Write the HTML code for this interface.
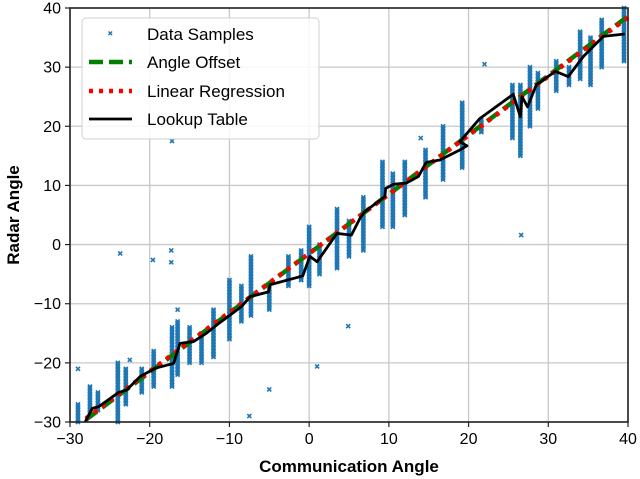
<!DOCTYPE html>
<html><head><meta charset="utf-8"><style>
body{margin:0;background:#fff;}
svg{display:block;font-family:"Liberation Sans",sans-serif;}
</style></head><body>
<svg id="chart" width="640" height="479"></svg>
<script>
const xTicks=[-30,-20,-10,0,10,20,30,40];
const yTicks=[-30,-20,-10,0,10,20,30,40];
// sample clusters: x, low y, high y
const clusterX=[-29,-27.5,-26.5,-24,-23,-21,-19.5,-17.2,-16.5,-15,-13.5,-12,-10,-8.5,-7.3,-5,-2.6,-1,0,1.3,3.5,5,6.8,9.2,10.5,12,14.6,16.8,19.2,21.6,25.5,26.5,27.7,28.7,31,32.6,34,35.3,36.7,39.5];
const clusterLo=[-30,-29,-28,-30,-27,-25,-24,-24,-22,-20,-20,-19,-16,-13,-12,-11,-7,-6,-7,-5,-4,-2,-1,3,3,5,8,11,13,19,18,15,20,23,26,27,28,27,30,31];
const clusterHi=[-27,-24,-25,-20,-21,-21,-18,-14,-13,-14,-15,-11,-6,-7,-2,-7,-2,-1,3,0,6,4,8,14,12,14,16,20,24,21,27,27,30,29,31,30,36,35,38,40];
const outX=[-17.2,-23.7,-19.6,-17.3,-17.3,-5,-7.5,1,4.9,26.6,-29,-22.5,-16.5,-1,14,22];
const outY=[17.5,-1.5,-2.6,-1,-3,-24.5,-29,-20.6,-13.8,1.6,-21,-19.5,-11,-6,18,30.5];
const lutX=[-28.1,-27.2,-26.4,-23.9,-22.9,-21.2,-19.3,-17,-16.2,-14.5,-12.9,-11.6,-9.9,-8.5,-7.4,-5.1,-4.9,-0.8,0.1,1,3.5,5.3,6.4,7,9.5,9.6,10.6,12.2,13.7,14.7,16.4,18.9,19.8,18.9,21.4,25.6,26.5,26.7,27.4,28.5,30.9,32.5,34.4,36.9,39.6];
const lutY=[-30,-27.7,-27.4,-25,-24.6,-22.3,-20.9,-20.1,-16.7,-16.4,-15,-13.6,-11.9,-10.5,-8.8,-8,-6.8,-5.3,-2,-2.9,1.9,1.6,4.5,5.6,8.1,9.5,10.2,10.4,11.5,13.9,14.3,16,16.7,17.4,21.3,25.4,21.6,25,23.3,27,29.3,28.4,31.8,35.2,35.6];
const fitX=[-28,40];
const offsetY=[-29.6,38.6];
const regY=[-29.4,38.4];

const L=70,R=628,T=8,B=422;
const sx=v=>L+(v+30)/70*(R-L);
const sy=v=>B-(v+30)/70*(B-T);
const svg=document.getElementById('chart');
const NS='http://www.w3.org/2000/svg';
function mk(tag,attrs,parent){const e=document.createElementNS(NS,tag);for(const k in attrs)e.setAttribute(k,attrs[k]);(parent||svg).appendChild(e);return e;}

const grid=mk('g',{});


xTicks.forEach(t=>{mk('line',{x1:sx(t),x2:sx(t),y1:T,y2:B,stroke:'#c8c8c8','stroke-width':1.3},grid);});
yTicks.forEach(t=>{mk('line',{x1:L,x2:R,y1:sy(t),y2:sy(t),stroke:'#c8c8c8','stroke-width':1.3},grid);});

const pts=mk('g',{fill:'#1f77b4'});


function marker(x,y){const m=mk('path',{d:`M${sx(x)-2},${sy(y)-2}l4,4m0,-4l-4,4`,stroke:'#1f77b4','stroke-width':1.6},pts);

}
clusterX.forEach((x,i)=>{for(let y=clusterLo[i];y<=clusterHi[i]+0.01;y+=0.25)marker(x,y);});
outX.forEach((x,i)=>marker(x,outY[i]));

const off=mk('polyline',{points:fitX.map((x,i)=>sx(x)+','+sy(offsetY[i])).join(' '),fill:'none',stroke:'#008000','stroke-width':4.5,'stroke-dasharray':'14,6'});


const reg=mk('polyline',{points:fitX.map((x,i)=>sx(x)+','+sy(regY[i])).join(' '),fill:'none',stroke:'#ff0000','stroke-width':4.5,'stroke-dasharray':'4,6'});


const lut=mk('polyline',{points:lutX.map((x,i)=>sx(x)+','+sy(lutY[i])).join(' '),fill:'none',stroke:'#000','stroke-width':2.8,'stroke-linejoin':'round'});



const frame=mk('rect',{x:L,y:T,width:R-L,height:B-T,fill:'none',stroke:'#222','stroke-width':1.6});



xTicks.forEach(t=>{mk('line',{x1:sx(t),x2:sx(t),y1:B,y2:B+5,stroke:'#222','stroke-width':1.2});
const tx=mk('text',{x:sx(t),y:B+22,'text-anchor':'middle','font-size':16,fill:'#000'});tx.textContent=t<0?'\u2212'+(-t):t;

});
yTicks.forEach(t=>{mk('line',{x1:L-5,x2:L,y1:sy(t),y2:sy(t),stroke:'#222','stroke-width':1.2});
const tx=mk('text',{x:L-9,y:sy(t)+5.5,'text-anchor':'end','font-size':16,fill:'#000'});tx.textContent=t<0?'\u2212'+(-t):t;

});

const xl=mk('text',{x:(L+R)/2,y:472,'text-anchor':'middle','font-size':17,'font-weight':'bold'});xl.textContent='Communication Angle';


const yl=mk('text',{x:0,y:0,'text-anchor':'middle','font-size':17,'font-weight':'bold',transform:`translate(19,${(T+B)/2}) rotate(-90)`});yl.textContent='Radar Angle';



const lg=mk('g',{});


mk('rect',{x:82,y:18,width:237,height:121,rx:4,fill:'rgba(255,255,255,0.85)',stroke:'#d0d0d0','stroke-width':1},lg);
const items=['Data Samples','Angle Offset','Linear Regression','Lookup Table'];
const ys=[34,62,91,119];
mk('path',{d:'M108.5,31.5l3.6,3.6m0,-3.6l-3.6,3.6',stroke:'#1f77b4','stroke-width':1.4},lg);
mk('line',{x1:89,x2:132,y1:62,y2:62,stroke:'#008000','stroke-width':4.5,'stroke-dasharray':'14,6'},lg);
mk('line',{x1:89,x2:132,y1:91,y2:91,stroke:'#ff0000','stroke-width':4.5,'stroke-dasharray':'4,6'},lg);
mk('line',{x1:89,x2:132,y1:119,y2:119,stroke:'#000','stroke-width':2.8},lg);
items.forEach((s,i)=>{const t=mk('text',{x:147,y:ys[i]+6,'font-size':17,fill:'#000'},lg);t.textContent=s;

});
</script>
</body></html>
